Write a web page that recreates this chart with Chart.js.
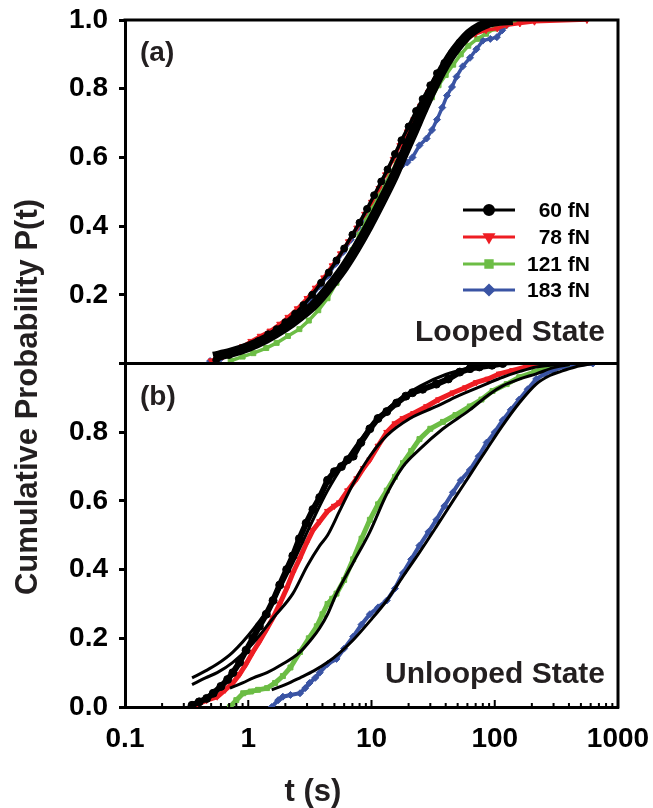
<!DOCTYPE html>
<html><head><meta charset="utf-8">
<script src="https://cdn.jsdelivr.net/npm/chart.js@4.4.0/dist/chart.umd.min.js"></script>
<style>html,body{margin:0;padding:0;background:#fff;}#wrap{width:653px;height:808px;}</style>
</head><body><div id="wrap"><canvas id="c" width="653" height="808"></canvas></div>
<script>
// ---------- tick labels ----------
const xTickValues = [0.1, 1, 10, 100, 1000];
const xTickLabels = ['0.1', '1', '10', '100', '1000'];
const yTickValues = [0, 0.2, 0.4, 0.6, 0.8, 1.0];
const yTopLabels = ['', '0.2', '0.4', '0.6', '0.8', '1.0'];
const yBotLabels = ['0.0', '0.2', '0.4', '0.6', '0.8', ''];
const seriesNames = ['60 fN', '78 fN', '121 fN', '183 fN'];

// ---------- (a) Looped state ----------
const tFitA = [0.52, 0.7, 1.0, 1.4, 2.0, 2.6, 3.5, 4.6, 6.0, 7.5, 9.5, 12, 15, 18, 22, 26, 31, 37, 44, 52, 62, 75, 90, 110, 140];
const pFitA = [0.02, 0.03, 0.048, 0.072, 0.105, 0.135, 0.175, 0.225, 0.28, 0.335, 0.40, 0.47, 0.54, 0.605, 0.675, 0.735, 0.795, 0.85, 0.895, 0.93, 0.96, 0.98, 0.992, 0.998, 1.0];

const tA60 = [0.55, 0.7, 0.85, 1.0, 1.2, 1.45, 1.7, 2.0, 2.4, 2.8, 3.3, 3.9, 4.5, 5.2, 6.0, 7.0, 8.0, 9.2, 10.5, 12, 13.5, 15.5, 17.5, 20, 23, 26, 30, 34, 39, 45, 52, 60, 70, 82, 95, 116];
const pA60 = [0.01, 0.025, 0.04, 0.05, 0.065, 0.085, 0.10, 0.12, 0.145, 0.17, 0.20, 0.235, 0.265, 0.30, 0.335, 0.375, 0.41, 0.45, 0.49, 0.53, 0.565, 0.61, 0.65, 0.69, 0.735, 0.77, 0.81, 0.845, 0.875, 0.905, 0.935, 0.955, 0.975, 0.988, 0.995, 1.0];

const tA78 = [0.5, 0.62, 0.75, 0.9, 1.05, 1.25, 1.5, 1.8, 2.1, 2.5, 3.0, 3.5, 4.1, 4.8, 5.6, 6.5, 7.6, 8.8, 10, 11.5, 13, 15, 17, 19.5, 22, 25, 29, 33, 38, 44, 51, 60, 70, 85, 105, 125, 160, 210, 560];
const pA78 = [0.008, 0.02, 0.035, 0.05, 0.065, 0.08, 0.095, 0.115, 0.135, 0.16, 0.19, 0.22, 0.25, 0.285, 0.32, 0.355, 0.395, 0.435, 0.47, 0.51, 0.55, 0.595, 0.635, 0.675, 0.71, 0.75, 0.79, 0.825, 0.86, 0.89, 0.92, 0.945, 0.96, 0.97, 0.975, 0.985, 0.99, 0.995, 1.0];

const tA121 = [0.72, 0.9, 1.1, 1.4, 1.7, 2.1, 2.6, 3.1, 3.7, 4.4, 5.2, 6.0, 7.0, 8.0, 9.2, 10.5, 12, 14, 16, 18.5, 21, 24, 27, 31, 35, 40, 46, 53, 61, 72, 85, 100, 120, 150, 205];
const pA121 = [0.008, 0.02, 0.03, 0.045, 0.06, 0.08, 0.10, 0.125, 0.155, 0.19, 0.235, 0.28, 0.33, 0.375, 0.42, 0.465, 0.50, 0.545, 0.585, 0.625, 0.665, 0.70, 0.74, 0.775, 0.81, 0.84, 0.87, 0.90, 0.925, 0.945, 0.96, 0.975, 0.985, 0.995, 1.0];

const tA183 = [0.49, 0.6, 0.75, 0.9, 1.1, 1.35, 1.6, 1.9, 2.3, 2.7, 3.2, 3.8, 4.4, 5.1, 5.9, 6.8, 7.8, 9.0, 10.3, 11.8, 13.5, 15.5, 17.5, 19.5, 21.5, 24.5, 28, 31, 34, 37.5, 41, 45, 49, 55, 63, 71, 80, 92, 104, 115, 125, 145, 170];
const pA183 = [0.007, 0.015, 0.03, 0.045, 0.06, 0.075, 0.09, 0.11, 0.135, 0.16, 0.19, 0.225, 0.255, 0.29, 0.325, 0.36, 0.395, 0.43, 0.465, 0.50, 0.53, 0.56, 0.575, 0.585, 0.60, 0.635, 0.655, 0.68, 0.71, 0.745, 0.78, 0.805, 0.835, 0.865, 0.89, 0.915, 0.94, 0.945, 0.95, 0.97, 0.985, 0.995, 1.0];

// ---------- (b) Unlooped state ----------
const tB60 = [0.35, 0.4, 0.46, 0.52, 0.6, 0.68, 0.75, 0.85, 0.96, 1.09, 1.23, 1.4, 1.59, 1.8, 2.05, 2.3, 2.6, 2.95, 3.35, 3.8, 4.4, 5.0, 5.7, 6.4, 7.1, 8.2, 9.7, 11.3, 13.3, 16, 19, 21.5, 26, 33.6, 42, 52, 63, 75, 95, 116];
const pB60 = [0.005, 0.015, 0.025, 0.04, 0.06, 0.08, 0.10, 0.13, 0.165, 0.20, 0.235, 0.27, 0.31, 0.355, 0.40, 0.44, 0.49, 0.535, 0.575, 0.61, 0.66, 0.685, 0.70, 0.72, 0.73, 0.77, 0.81, 0.84, 0.86, 0.885, 0.905, 0.915, 0.925, 0.94, 0.955, 0.975, 0.985, 0.99, 0.995, 1.0];
const tFitB60 = [0.35, 0.45, 0.56, 0.75, 1.09, 1.6, 2.3, 3.3, 4.4, 6.0, 8.0, 11, 16, 25, 40, 60, 100, 150];
const pFitB60 = [0.085, 0.105, 0.125, 0.16, 0.225, 0.31, 0.42, 0.54, 0.63, 0.71, 0.775, 0.835, 0.89, 0.935, 0.968, 0.985, 0.997, 1.0];

const tB78 = [0.35, 0.4, 0.46, 0.56, 0.65, 0.75, 0.85, 0.96, 1.09, 1.23, 1.4, 1.59, 1.8, 2.05, 2.3, 2.6, 2.95, 3.35, 3.8, 4.4, 5.0, 5.5, 6.4, 7.6, 8.6, 9.7, 11.3, 13.3, 15.5, 18, 22, 28, 35, 45.8, 58, 71, 88, 109, 140, 180, 265];
const pB78 = [0.0, 0.01, 0.02, 0.03, 0.05, 0.07, 0.095, 0.125, 0.16, 0.19, 0.225, 0.26, 0.30, 0.345, 0.39, 0.43, 0.475, 0.515, 0.54, 0.57, 0.585, 0.595, 0.63, 0.665, 0.695, 0.72, 0.76, 0.80, 0.825, 0.84, 0.855, 0.875, 0.895, 0.915, 0.93, 0.945, 0.955, 0.97, 0.98, 0.99, 1.0];
const tFitB78 = [0.35, 0.45, 0.56, 0.75, 1.09, 1.6, 2.3, 3.0, 3.8, 4.4, 5.5, 7.1, 9.7, 13.3, 20.5, 33.6, 50, 62.8, 85, 116, 160, 217, 300, 405];
const pFitB78 = [0.065, 0.085, 0.10, 0.13, 0.185, 0.26, 0.33, 0.41, 0.47, 0.50, 0.57, 0.65, 0.73, 0.79, 0.84, 0.875, 0.905, 0.92, 0.94, 0.96, 0.977, 0.99, 0.996, 0.998];

const tB121 = [0.71, 0.8, 0.91, 1.05, 1.2, 1.42, 1.65, 1.91, 2.2, 2.63, 3.1, 3.6, 4.0, 4.4, 4.8, 5.2, 6.0, 7.1, 8.3, 9.7, 11.3, 13.3, 15.5, 18, 21, 24.5, 30, 38, 48, 62.8, 78, 96, 125, 158, 210, 265, 385];
const pB121 = [0.0, 0.02, 0.04, 0.045, 0.05, 0.055, 0.07, 0.09, 0.115, 0.16, 0.20, 0.235, 0.27, 0.30, 0.315, 0.33, 0.37, 0.43, 0.49, 0.545, 0.59, 0.63, 0.67, 0.71, 0.745, 0.78, 0.81, 0.83, 0.85, 0.875, 0.895, 0.92, 0.94, 0.96, 0.975, 0.99, 1.0];
const tFitB121 = [0.71, 0.9, 1.1, 1.42, 1.9, 2.63, 3.3, 3.8, 4.4, 5.2, 7.1, 9.7, 13.3, 18, 24.5, 38, 62.8, 90, 116, 160, 217, 300, 405];
const pFitB121 = [0.055, 0.07, 0.085, 0.10, 0.125, 0.16, 0.2, 0.23, 0.27, 0.33, 0.42, 0.51, 0.62, 0.70, 0.75, 0.81, 0.865, 0.91, 0.935, 0.955, 0.97, 0.988, 0.997];

const tB183 = [1.55, 1.75, 1.91, 2.2, 2.63, 2.9, 3.14, 3.5, 3.8, 4.4, 5.2, 6.0, 7.1, 8.3, 9.7, 11.3, 13.3, 15.5, 18, 21, 24.5, 29, 33.6, 39, 45.8, 53, 62.8, 74, 86, 100, 116, 135, 158, 185, 217, 255, 296, 360, 425, 625];
const pB183 = [0.0, 0.02, 0.03, 0.035, 0.04, 0.055, 0.07, 0.085, 0.10, 0.125, 0.14, 0.17, 0.205, 0.24, 0.27, 0.29, 0.31, 0.345, 0.39, 0.43, 0.47, 0.51, 0.545, 0.585, 0.625, 0.66, 0.69, 0.73, 0.77, 0.80, 0.835, 0.865, 0.895, 0.925, 0.955, 0.97, 0.98, 0.99, 0.995, 1.0];
const tFitB183 = [1.55, 2.0, 2.63, 3.4, 4.4, 5.6, 7.1, 9.7, 13.3, 18, 24.5, 33.6, 45.8, 62.8, 86, 116, 158, 217, 280, 345, 450, 625];
const pFitB183 = [0.05, 0.065, 0.085, 0.105, 0.13, 0.16, 0.195, 0.25, 0.31, 0.38, 0.45, 0.525, 0.60, 0.675, 0.75, 0.82, 0.885, 0.94, 0.965, 0.977, 0.99, 1.0];

// ---------- styling ----------
const FONT = "'Liberation Sans', Arial, Helvetica, sans-serif";
const BLACK = '#000000', RED = '#ee1d23', GREEN = '#6cbd45', BLUE = '#3a54a4';
const colors = [BLACK, RED, GREEN, BLUE];
const styles = [
  {pointStyle: 'circle', rotation: 0},
  {pointStyle: 'triangle', rotation: 180},
  {pointStyle: 'rect', rotation: 0},
  {pointStyle: 'rectRot', rotation: 0}
];

function pts(t, p) { return t.map((v, i) => ({x: v, y: p[i]})); }

function fit(t, p, axis, w) {
  return {data: pts(t, p), yAxisID: axis, borderColor: BLACK, backgroundColor: BLACK,
    borderWidth: w, pointRadius: 0, showLine: true, cubicInterpolationMode: 'monotone', tension: 0.4};
}
function dat(t, p, axis, k, w, r) {
  return {data: pts(t, p), yAxisID: axis, borderColor: colors[k], backgroundColor: colors[k],
    borderWidth: w, pointRadius: r, pointStyle: styles[k].pointStyle, pointRotation: styles[k].rotation,
    pointBorderWidth: 1, showLine: true, tension: 0};
}

const datasets = [
  fit(tFitA, pFitA, 'yA', 10),
  fit(tFitB60, pFitB60, 'yB', 3),
  fit(tFitB78, pFitB78, 'yB', 3),
  fit(tFitB121, pFitB121, 'yB', 3),
  fit(tFitB183, pFitB183, 'yB', 3),
  dat(tA60, pA60, 'yA', 0, 3.5, 3.5),
  dat(tB60, pB60, 'yB', 0, 6, 4),
  dat(tA78, pA78, 'yA', 1, 3.5, 3.5),
  dat(tA121, pA121, 'yA', 2, 3.5, 3.5),
  dat(tA183, pA183, 'yA', 3, 3.5, 3.5),
  dat(tB78, pB78, 'yB', 1, 5, 3.5),
  dat(tB121, pB121, 'yB', 2, 5, 3.5),
  dat(tB183, pB183, 'yB', 3, 4, 3.5)
];

const tickFont = {family: FONT, size: 28, weight: 'bold'};

function noPad(s) { s.paddingTop = 0; s.paddingBottom = 0; s.paddingLeft = 0; s.paddingRight = 0; }

function yScale(labels, weight) {
  return {
    type: 'linear', position: 'left', stack: 'p', stackWeight: 1, weight: weight,
    min: 0, max: 1,
    afterBuildTicks: s => { s.ticks = yTickValues.map(v => ({value: v})); },
    afterFit: s => { s.width = 125; noPad(s); },
    ticks: {font: tickFont, color: BLACK, padding: 11, callback: (v, i) => labels[i]},
    grid: {display: true, drawOnChartArea: false, drawTicks: true, tickLength: 6, tickWidth: 3, tickColor: BLACK},
    border: {display: true, width: 3, color: BLACK}
  };
}

const decor = {
  id: 'decor',
  afterDraw(chart) {
    const ctx = chart.ctx, a = chart.chartArea;
    const xs = chart.scales.x, yA = chart.scales.yA, yB = chart.scales.yB;
    ctx.save();
    // frame lines
    ctx.strokeStyle = BLACK; ctx.lineWidth = 3; ctx.lineCap = 'square';
    ctx.beginPath();
    ctx.moveTo(a.left, a.top); ctx.lineTo(a.right, a.top);
    ctx.moveTo(a.right, a.top); ctx.lineTo(a.right, a.bottom);
    ctx.moveTo(a.left, yA.bottom); ctx.lineTo(a.right, yA.bottom);
    ctx.stroke();
    // inward x ticks on the bottom axis
    ctx.lineWidth = 2; ctx.lineCap = 'butt';
    ctx.beginPath();
    for (let d = 0; d < xTickValues.length - 1; d++) {
      for (let k = 1; k <= 9; k++) {
        const v = xTickValues[d] * k;
        const px = xs.getPixelForValue(v);
        const len = k === 1 ? 7 : 4;
        if (k === 1 && d === 0) continue;
        ctx.moveTo(px, a.bottom); ctx.lineTo(px, a.bottom - len);
      }
    }
    ctx.stroke();
    // texts
    ctx.fillStyle = '#231f20';
    ctx.textBaseline = 'middle';
    ctx.font = 'bold 28px ' + FONT;
    ctx.textAlign = 'left';
    ctx.fillText('(a)', a.left + 15, a.top + 33);
    ctx.fillText('(b)', a.left + 15, yB.top + 34);
    ctx.font = 'bold 30px ' + FONT;
    ctx.textAlign = 'right';
    ctx.fillText('Looped State', a.right - 13, yA.bottom - 31);
    ctx.fillText('Unlooped State', a.right - 13, a.bottom - 32);
    // axis titles
    ctx.font = 'bold 31px ' + FONT;
    ctx.textAlign = 'center';
    ctx.fillText('t (s)', 313, 792);
    ctx.save();
    ctx.translate(28, 397);
    ctx.rotate(-Math.PI / 2);
    ctx.fillText('Cumulative Probability P(t)', 0, 0);
    ctx.restore();
    // legend
    const rows = [210, 237, 264, 290];
    for (let k = 0; k < 4; k++) {
      const y = rows[k];
      ctx.strokeStyle = colors[k]; ctx.fillStyle = colors[k]; ctx.lineWidth = 3;
      ctx.beginPath(); ctx.moveTo(463, y); ctx.lineTo(515, y); ctx.stroke();
      Chart.helpers.drawPoint(ctx, {pointStyle: styles[k].pointStyle, rotation: styles[k].rotation, radius: 4.5, borderWidth: 1}, 489, y);
      ctx.fillStyle = BLACK;
      ctx.font = 'bold 21px ' + FONT;
      ctx.textAlign = 'right';
      ctx.fillText(seriesNames[k], 590, y + 1);
    }
    ctx.restore();
  }
};

new Chart(document.getElementById('c'), {
  type: 'scatter',
  data: {datasets: datasets},
  options: {
    responsive: false, animation: false,
    layout: {padding: {top: 20, right: 35, left: 0, bottom: 0}},
    plugins: {legend: {display: false}, tooltip: {enabled: false}},
    scales: {
      x: {
        type: 'logarithmic', min: 0.1, max: 1000,
        afterBuildTicks: s => { s.ticks = xTickValues.map(v => ({value: v})); },
        afterFit: s => { s.height = 101; noPad(s); },
        ticks: {font: tickFont, color: BLACK, padding: 15, maxRotation: 0, autoSkip: false, callback: (v, i) => xTickLabels[i]},
        grid: {display: true, drawOnChartArea: false, drawTicks: false},
        border: {display: true, width: 3, color: BLACK}
      },
      yA: yScale(yTopLabels, 2),
      yB: yScale(yBotLabels, 1)
    }
  },
  plugins: [decor]
});
</script>
</body></html>
